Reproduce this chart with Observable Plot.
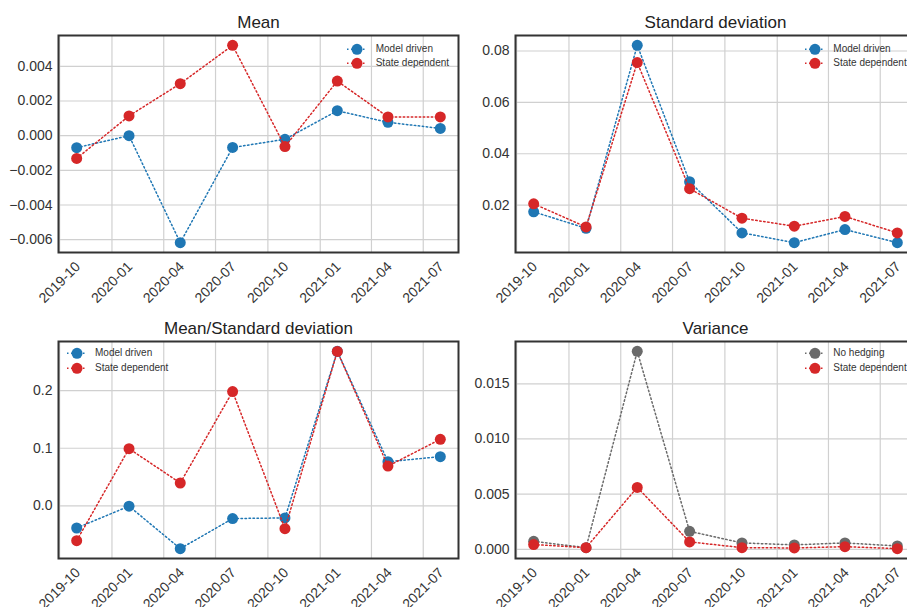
<!DOCTYPE html>
<html>
<head>
<meta charset="utf-8">
<script src="https://cdn.jsdelivr.net/npm/d3@7"></script>
<script src="https://cdn.jsdelivr.net/npm/@observablehq/plot@0.6"></script>
<style>
  html, body { margin: 0; padding: 0; background: #fff; }
  #wrap { position: relative; width: 907px; height: 607px; overflow: hidden; background: #fff;
          font-family: "Liberation Sans", Arial, sans-serif; }
  .panel { position: absolute; }
  .legend { position: absolute; font-size: 10px; color: #333; line-height: 14.7px; }
  .legend .row { display: flex; align-items: center; height: 14.7px; white-space: nowrap; }
  .legend svg { display: block; flex: none; }
</style>
</head>
<body>
<div id="wrap"></div>
<script>
// ---- data ----
const dates = ["2019-10-31","2020-01-31","2020-04-30","2020-07-31","2020-10-31","2021-01-31","2021-04-30","2021-07-31"];
const xTickLabels = ["2019-10","2020-01","2020-04","2020-07","2020-10","2021-01","2021-04","2021-07"];

const meanModel = [-0.00069, 0.00000, -0.00617, -0.00068, -0.00021, 0.00144, 0.00077, 0.00042];
const meanState = [-0.00131, 0.00114, 0.00300, 0.00521, -0.00063, 0.00315, 0.00108, 0.00108];

const stdModel = [0.0174, 0.0110, 0.0822, 0.0291, 0.0092, 0.0054, 0.0105, 0.0054];
const stdState = [0.0205, 0.0115, 0.0755, 0.0264, 0.0149, 0.0118, 0.0156, 0.0092];

const ratioModel = [-0.0383, -0.0005, -0.0741, -0.0219, -0.0209, 0.2680, 0.0767, 0.0854];
const ratioState = [-0.0603, 0.0993, 0.0397, 0.1983, -0.0394, 0.2678, 0.0690, 0.1155];

const varNoHedge = [0.00072, 0.00015, 0.01794, 0.00163, 0.00058, 0.00040, 0.00058, 0.00030];
const varState   = [0.00043, 0.00015, 0.00561, 0.00067, 0.00015, 0.00012, 0.00024, 0.00006];

const meanTicks = [-0.006, -0.004, -0.002, 0, 0.002, 0.004];
const meanTickLabels = ["\u22120.006", "\u22120.004", "\u22120.002", "0.000", "0.002", "0.004"];
const stdTicks = [0.02, 0.04, 0.06, 0.08];
const stdTickLabels = ["0.02", "0.04", "0.06", "0.08"];
const ratioTicks = [0.0, 0.1, 0.2];
const ratioTickLabels = ["0.0", "0.1", "0.2"];
const varTicks = [0, 0.005, 0.010, 0.015];
const varTickLabels = ["0.000", "0.005", "0.010", "0.015"];

const seriesNames = ["Model driven", "State dependent", "No hedging"];
const colors = {"Model driven": "#1f77b4", "State dependent": "#d62728", "No hedging": "#6a6a6a"};

// ---- helpers ----
const FONT = "\"Liberation Sans\", Arial, sans-serif";
const dateObjs = dates.map(d => new Date(d + "T00:00:00Z"));
const xTickDates = xTickLabels.map(s => new Date(s + "-01T00:00:00Z"));
const xMin = +dateObjs[0], xMax = +dateObjs[dateObjs.length - 1];
const xPad = (xMax - xMin) * 0.05;
const xDomain = [new Date(xMin - xPad), new Date(xMax + xPad)];

function padDomain(arrays) {
  const all = arrays.flat();
  const lo = d3.min(all), hi = d3.max(all);
  const p = (hi - lo) * 0.05;
  return [lo - p, hi + p];
}

function rows(values) {
  return dateObjs.map((d, i) => ({date: d, v: values[i]}));
}

function panel(cfg) {
  const gridStyle = {stroke: "#d0d0d0", strokeOpacity: 1, strokeWidth: 1.2};
  const marks = [
    Plot.gridX(xTickDates, gridStyle),
    Plot.gridY(cfg.yTicks, gridStyle),
    Plot.axisY(cfg.yTicks, {
      tickSize: 0, tickPadding: 6, label: null,
      tickFormat: (d) => cfg.yLabels[cfg.yTicks.indexOf(d)],
      fontSize: 14, fill: "#333"
    }),
    Plot.text(xTickDates, {
      x: d => d, frameAnchor: "bottom", dy: 30, rotate: -45,
      text: (d, i) => xTickLabels[i], textAnchor: "middle", lineAnchor: "middle",
      fontSize: 14, fill: "#333"
    })
  ];
  for (const s of cfg.series) {
    const data = rows(s.values);
    marks.push(Plot.line(data, {x: "date", y: "v", stroke: colors[s.name], strokeWidth: 1.5, strokeDasharray: "1.5,2.5"}));
    marks.push(Plot.dot(data, {x: "date", y: "v", r: 5.5, fill: colors[s.name]}));
  }
  marks.push(Plot.frame({stroke: "#333", strokeWidth: 2}));
  marks.push(Plot.text([cfg.title], {frameAnchor: "top", dy: -8, lineAnchor: "bottom", fontSize: 17, fill: "#222"}));

  const chart = Plot.plot({
    width: cfg.width, height: cfg.height,
    marginTop: cfg.mt, marginBottom: cfg.mb, marginLeft: cfg.ml, marginRight: cfg.mr,
    x: {type: "utc", domain: xDomain, axis: null},
    y: {domain: padDomain(cfg.series.map(s => s.values)), axis: null},
    style: {fontFamily: FONT, background: "transparent", overflow: "visible"},
    marks
  });
  chart.classList.add("panel");
  chart.style.left = cfg.left + "px";
  chart.style.top = cfg.top + "px";
  document.getElementById("wrap").appendChild(chart);

  // legend
  const lg = document.createElement("div");
  lg.className = "legend";
  lg.style.left = cfg.legend.left + "px";
  lg.style.top = cfg.legend.top + "px";
  for (const s of cfg.series) {
    const row = document.createElement("div");
    row.className = "row";
    const c = colors[s.name];
    row.innerHTML =
      `<svg width="20" height="14.7"><line x1="0" x2="20" y1="7.35" y2="7.35" stroke="${c}" stroke-width="1.5" stroke-dasharray="1.5,2.5"/>` +
      `<circle cx="10" cy="7.35" r="5.5" fill="${c}"/></svg>` +
      `<span style="margin-left:${cfg.legend.gap}px">${s.name}</span>`;
    lg.appendChild(row);
  }
  document.getElementById("wrap").appendChild(lg);
}

panel({
  title: "Mean", left: 0, top: 0, width: 460, height: 300, mt: 35, mb: 48, ml: 58, mr: 2,
  yTicks: meanTicks, yLabels: meanTickLabels,
  series: [{name: seriesNames[0], values: meanModel}, {name: seriesNames[1], values: meanState}],
  legend: {left: 347, top: 41.6, gap: 8.7}
});
panel({
  title: "Standard deviation", left: 450, top: 0, width: 470, height: 300, mt: 35, mb: 48, ml: 65, mr: 5,
  yTicks: stdTicks, yLabels: stdTickLabels,
  series: [{name: seriesNames[0], values: stdModel}, {name: seriesNames[1], values: stdState}],
  legend: {left: 805, top: 41.6, gap: 8.3}
});
panel({
  title: "Mean/Standard deviation", left: 0, top: 300, width: 460, height: 307, mt: 41, mb: 49, ml: 58, mr: 2,
  yTicks: ratioTicks, yLabels: ratioTickLabels,
  series: [{name: seriesNames[0], values: ratioModel}, {name: seriesNames[1], values: ratioState}],
  legend: {left: 67.3, top: 346.3, gap: 7.7}
});
panel({
  title: "Variance", left: 450, top: 300, width: 470, height: 307, mt: 41, mb: 49, ml: 65, mr: 5,
  yTicks: varTicks, yLabels: varTickLabels,
  series: [{name: seriesNames[2], values: varNoHedge}, {name: seriesNames[1], values: varState}],
  legend: {left: 805, top: 346.3, gap: 8.3}
});
</script>
</body>
</html>
